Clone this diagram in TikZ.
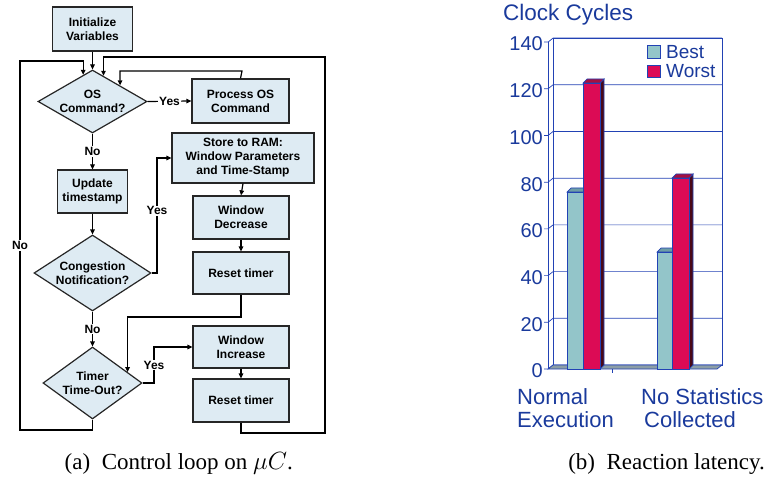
\documentclass[tikz,border=0pt]{standalone}
\usepackage{fontspec}
\setmainfont{Liberation Serif}
\newfontfamily\arialf{Liberation Sans}
\usetikzlibrary{shapes.geometric,arrows.meta,calc}
\definecolor{boxfill}{HTML}{DEEBF3}
\definecolor{chartblue}{HTML}{1A3A9C}
\definecolor{chartline}{HTML}{2242B4}
\definecolor{bestfill}{HTML}{93C5C9}
\definecolor{besttop}{HTML}{6E9EA6}
\definecolor{bestside}{HTML}{55868C}
\definecolor{worstfill}{HTML}{DC0B55}
\definecolor{worsttop}{HTML}{A50F40}
\definecolor{worstside}{HTML}{4A0816}
\definecolor{floorfill}{HTML}{8C9EA6}
\newcommand{\flowfont}{\arialf\bfseries\fontsize{12}{14}\selectfont}
\newcommand{\cbar}[6]{%
  \filldraw[cl,fill=#6] (#2,369) -- ({#2+4},365) -- ({#2+4},{#3-4}) -- (#2,#3) -- cycle;
  \filldraw[cl,fill=#5] (#1,#3) -- ({#1+4},{#3-4}) -- ({#2+4},{#3-4}) -- (#2,#3) -- cycle;
  \filldraw[cl,fill=#4] (#1,#3) rectangle (#2,369);
}
\begin{document}
\begin{tikzpicture}[x=1pt,y=-1pt,
  fbox/.style={draw=black!85,line width=1.2pt,fill=boxfill,inner sep=0pt,align=center,font=\flowfont},
  fdia/.style={diamond,draw=black!85,line width=1.2pt,fill=boxfill,inner sep=-3pt,align=center,font=\flowfont},
  arr/.style={line width=1.2pt,-{Triangle[length=5pt,width=4.5pt]}},
  lbl/.style={fill=white,inner sep=1pt,font=\flowfont},
  cl/.style={draw=chartline,line width=0.7pt},
  ctext/.style={text=chartblue,font=\arialf\fontsize{20}{23}\selectfont,inner sep=0pt},
  captxt/.style={font=\fontsize{23}{26}\selectfont,inner sep=0pt,anchor=base east},
]
\path[use as bounding box] (0,0) rectangle (768,481);

% ---------- flowchart ----------
\node[fbox,minimum width=80pt,minimum height=44pt] (init) at (92.5,29) {Initialize\\Variables};
\node[fdia,aspect=1.73,minimum width=109pt,minimum height=63pt] (os) at (92.5,101.5) {OS\\Command?};
\node[fbox,minimum width=97pt,minimum height=44pt] (proc) at (240.5,101) {Process OS\\Command};
\node[fbox,minimum width=70pt,minimum height=43pt] (upd) at (92.5,191.5) {Update\\timestamp};
\node[fbox,minimum width=142pt,minimum height=50pt] (store) at (243,158) {Store to RAM:\\Window Parameters\\and Time-Stamp};
\node[fbox,minimum width=96pt,minimum height=43pt] (wdec) at (241,217.5) {Window\\Decrease};
\node[fbox,minimum width=96pt,minimum height=42pt] (rst1) at (241,273) {Reset timer};
\node[fdia,aspect=1.54,minimum width=117pt,minimum height=76pt] (cong) at (92.5,273) {Congestion\\Notification?};
\node[fdia,aspect=1.375,minimum width=99pt,minimum height=72pt] (timer) at (92.5,383) {Timer\\Time-Out?};
\node[fbox,minimum width=96pt,minimum height=42pt] (winc) at (241,347) {Window\\Increase};
\node[fbox,minimum width=96pt,minimum height=43pt] (rst2) at (241,400.5) {Reset timer};

\coordinate (osTR) at ($(os.north)!0.2!(os.east)$);
\coordinate (osTL) at ($(os.north)!0.17!(os.west)$);
\coordinate (tmTR) at ($(timer.north)!0.7!(timer.east)$);
\coordinate (Rt) at (325,57);
\coordinate (Rb) at (325,433);
\coordinate (Lt) at (20,61);
\coordinate (Lb) at (20,430);
\coordinate (pUp) at (242,71);
\coordinate (cY1) at (157,273);
\coordinate (cY2) at (157,158);
\coordinate (tY1) at (154,383);
\coordinate (tY2) at (154,347);
\coordinate (r1a) at (241,317);

\draw[arr] (init) -- (os);
\draw[arr] (os.east) -- node[lbl] {Yes} (proc.west);
\draw[arr] (proc.north) -- (pUp) -| (os.north east);
\draw[arr] (os.south) -- node[lbl] {No} (upd.north);
\draw[arr] (upd.south) -- (cong.north);
\draw[arr] (cong.east) -- (cY1) -- node[lbl,pos=0.54] {Yes} (cY2) -- (store.west);
\draw[arr] (store.south) -- (wdec.north);
\draw[arr] (wdec.south) -- (rst1.north);
\draw[arr] (rst1.south) -- (r1a) -| (tmTR);
\draw[arr] (cong.south) -- node[lbl] {No} (timer.north);
\draw[arr] (timer.east) -- (tY1) -- node[lbl] {Yes} (tY2) -- (winc.west);
\draw[arr] (winc.south) -- (rst2.north);
\draw[arr] (rst2.south) |- (Rb) -- (Rt) -| (osTR);
\draw[arr] (timer.south) |- (Lb) -- node[lbl] {No} (Lt) -| (osTL);

% ---------- chart ----------
\node[ctext,anchor=west,font=\arialf\fontsize{22.5}{26}\selectfont] (title) at (503,15) {Clock Cycles};
\filldraw[cl,fill=white] (553,38) rectangle (722,365);
\foreach \v in {0,20,...,140} {
  \pgfmathsetmacro\yb{365-2.335*\v}
  \draw[cl] (544,{\yb+4}) -- (548,{\yb+4}) -- (553,\yb) -- (722,\yb);
  \node[ctext,anchor=east] (yl\v) at (543,{\yb+6}) {\v};
}
\draw[cl] (548,42) -- (548,369);
\filldraw[cl,fill=floorfill] (548,369) -- (553,365) -- (722,365) -- (717,369) -- cycle;
\draw[cl] (612,369) -- (612,373);

\cbar{567}{583}{192}{bestfill}{besttop}{bestside}
\cbar{583}{600}{83}{worstfill}{worsttop}{worstside}
\cbar{657}{672}{252}{bestfill}{besttop}{bestside}
\cbar{672}{689}{178}{worstfill}{worsttop}{worstside}

\filldraw[cl,fill=bestfill] (647,45) rectangle (660,58);
\filldraw[cl,fill=worstfill] (647,65) rectangle (660,77);
\node[ctext,anchor=west,font=\arialf\fontsize{19}{22}\selectfont] (lbest) at (666,52) {Best};
\node[ctext,anchor=west,font=\arialf\fontsize{19}{22}\selectfont] (lworst) at (666,71) {Worst};

\node[ctext,anchor=west,align=left,font=\arialf\fontsize{22}{23}\selectfont] (cat1) at (517,408.5) {Normal\\Execution};
\node[ctext,anchor=west,align=left,font=\arialf\fontsize{22}{23}\selectfont] (cat2) at (641,408.5) {No Statistics\\\hspace{3pt}Collected};

% ---------- captions ----------
\node[captxt] (capa) at (293,469) {(a)\hspace{0.5em}Control loop on $\mu C$.};
\node[captxt] (capb) at (765,469) {(b)\hspace{0.5em}Reaction latency.};
\end{tikzpicture}
\end{document}
